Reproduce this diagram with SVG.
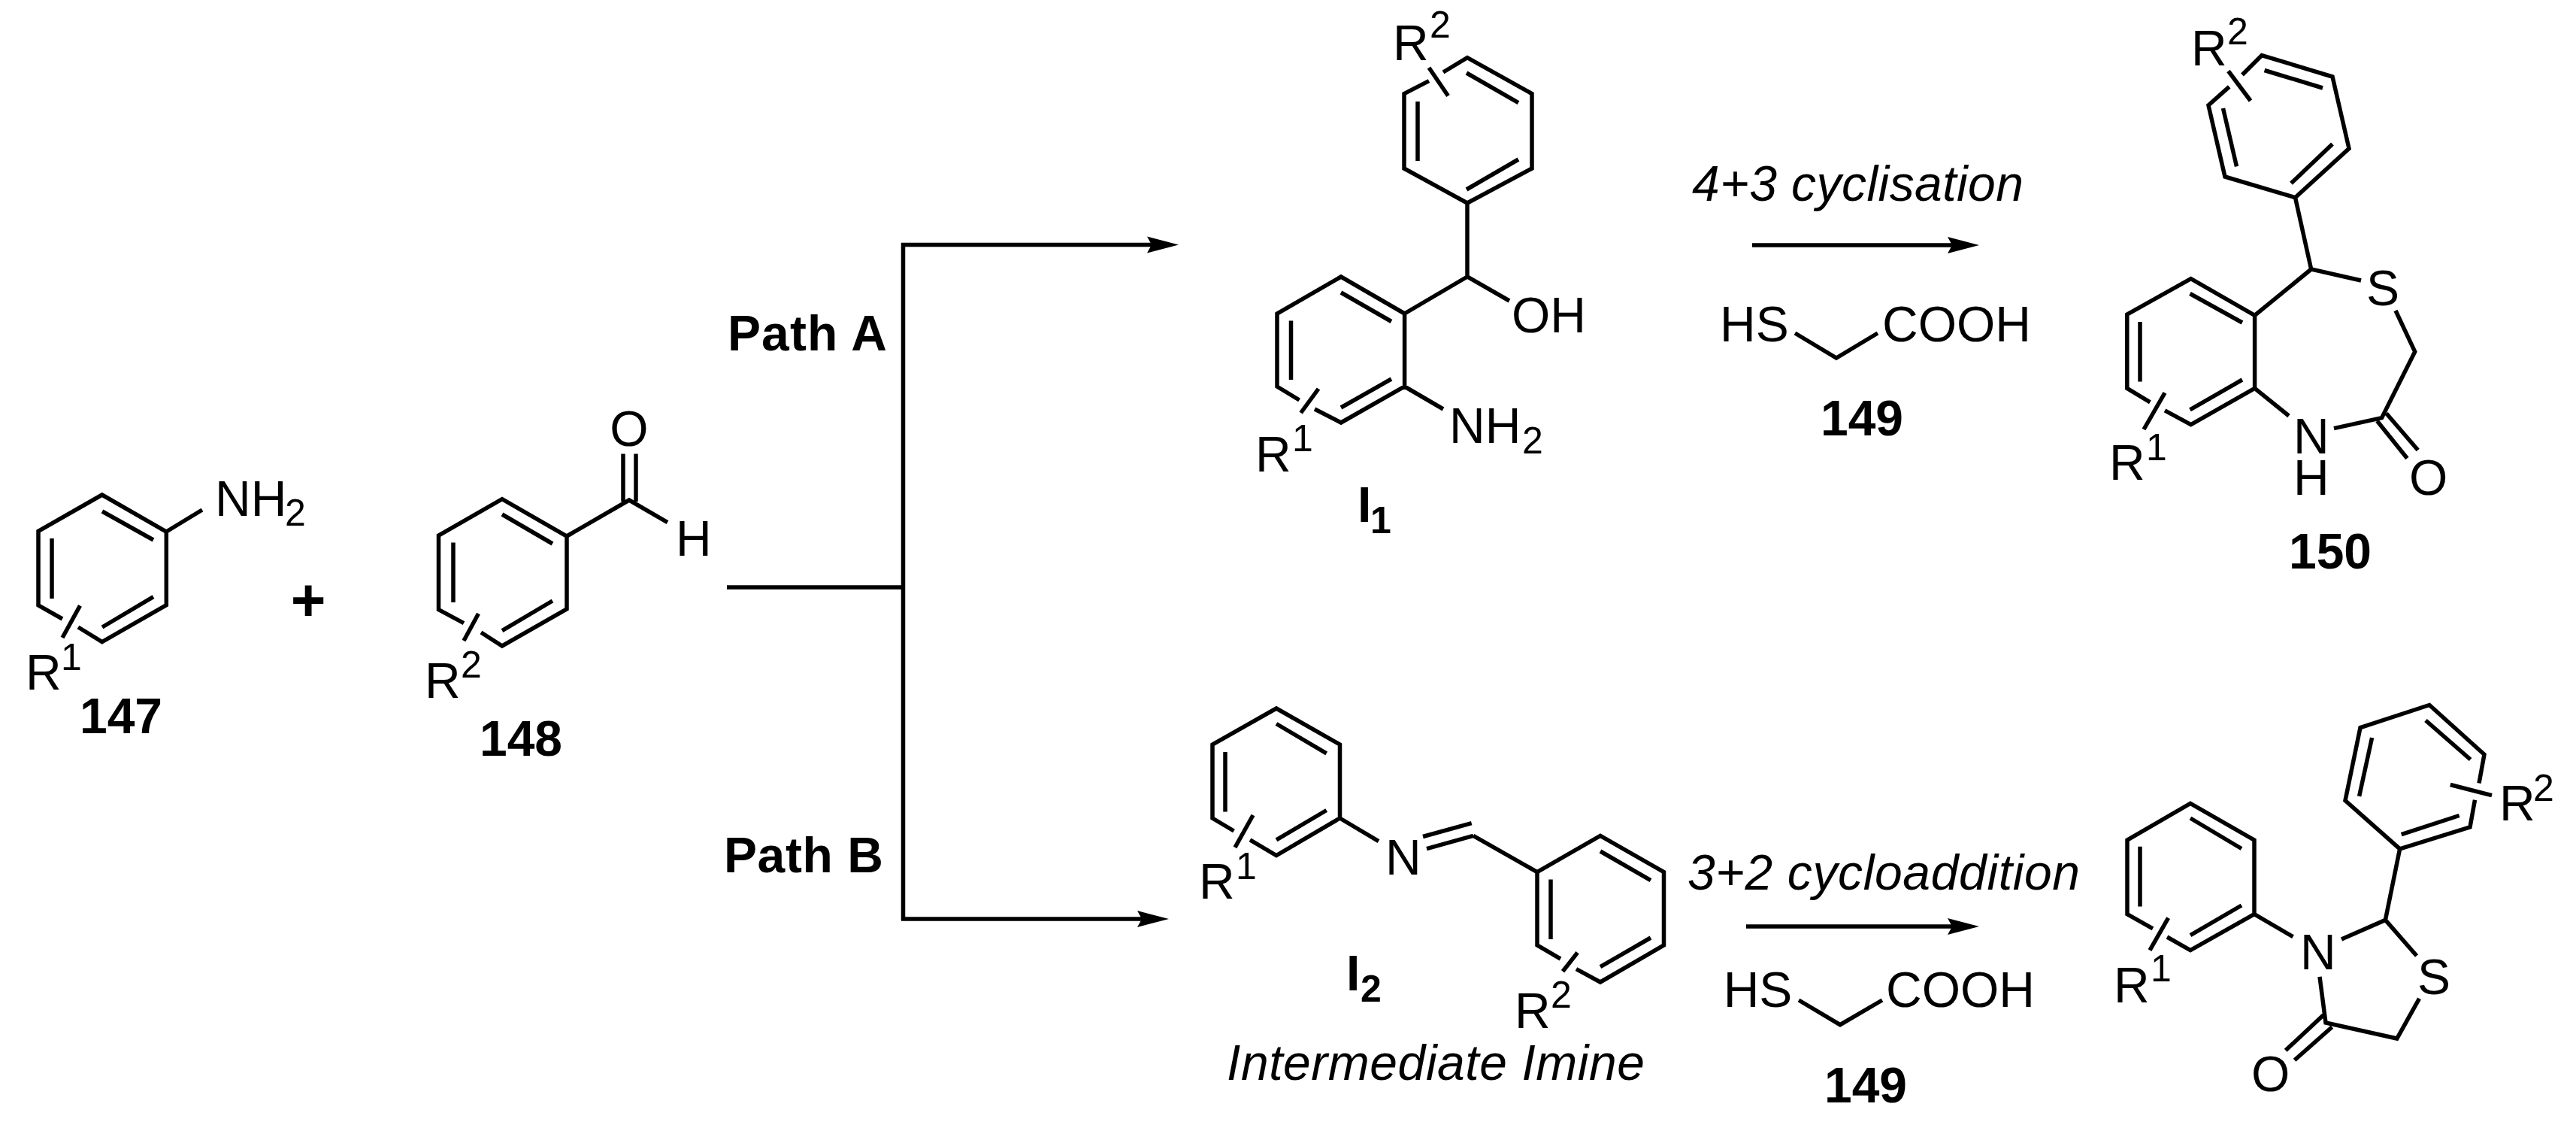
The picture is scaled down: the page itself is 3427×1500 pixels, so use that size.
<svg xmlns="http://www.w3.org/2000/svg" width="3427" height="1500" viewBox="0 0 3427 1500">
<style>
text{font-family:"Liberation Sans",Arial,sans-serif;font-size:66px;fill:#000}
.b{font-weight:700}
.i{font-style:italic}
.s{font-size:50px}
.bond{fill:none;stroke:#000;stroke-width:5.5;stroke-linejoin:miter;stroke-linecap:butt}
.conn{fill:none;stroke:#000;stroke-width:5.5;stroke-linejoin:miter}
</style>
<defs>
<marker id="head" markerUnits="userSpaceOnUse" markerWidth="44" markerHeight="26" refX="27" refY="12" orient="auto">
<path d="M0,1 L42,12 L0,23 L6,12 Z" fill="#000"/>
</marker>
</defs>
<rect width="3427" height="1500" fill="#fff"/>
<g id="connectors">
<path class="conn" d="M967,781H1201.5"/>
<path class="conn" d="M1201.5,781V323"/>
<path class="conn" d="M1201.5,781V1224"/>
<path class="conn" marker-end="url(#head)" d="M1199,325.6H1553"/>
<path class="conn" marker-end="url(#head)" d="M1199,1222H1540"/>
<path class="conn" marker-end="url(#head)" d="M2331,326H2618"/>
<path class="conn" marker-end="url(#head)" d="M2323,1232H2618"/>
</g>
<g id="n147">
<path class="bond" d="M83,823L51,805V706.4L135.8,658L221.3,707V804.6L135.8,853.6L104,834M136,680L204,718M69,716V796M136,834L204,793.6M106.5,805.4L83,848M221.3,707L269,678"/>
<text x="286" y="686">NH<tspan class="s" x="379" y="699">2</tspan></text>
<text x="34" y="917">R<tspan class="s" x="81" y="891">1</tspan></text>
<text class="b" x="161" y="975" text-anchor="middle">147</text>
</g>
<g id="plus"><text class="b" x="410" y="825" text-anchor="middle" style="font-size:80px">+</text></g>
<g id="n148">
<path class="bond" d="M617,828.6L583.5,810.7V712L668,663.6L754,713V810L668,859L640,841M668,684L735,723M603,721.4V801M668,838.6L735,799M636.5,816L617,852M754,713L837,665L888,694.6M829,667V603.6M846,667V603.6"/>
<text x="837" y="592.5" text-anchor="middle">O</text>
<text x="899" y="739">H</text>
<text x="565" y="927.5">R<tspan class="s" x="613" y="901">2</tspan></text>
<text class="b" x="693" y="1004.6" text-anchor="middle">148</text>
</g>
<g id="pathA"><text class="b" x="968" y="466" textLength="212">Path A</text></g>
<g id="pathB"><text class="b" x="963" y="1160" textLength="212">Path B</text></g>
<g id="I1">
<path class="bond" d="M1901,107.6L1868,124.6V224L1952,270L2038,224V124.6L1952,76.6L1920,96M1951,97L2020,136.7M1951,252L2020,212M1886,135V214M1901,90L1926.5,127.5M1952,270V368L2008,400M1952,368L1868.6,417V514L1784,562L1749,544M1728.6,532L1699,514V417L1784,368L1868.6,417M1784,389L1851,427.5M1717.5,426.5V505M1784,542L1851,504M1754,517L1730.6,549M1868.6,514L1920,544"/>
<text x="1853" y="80">R<tspan class="s" x="1902" y="50">2</tspan></text>
<text x="2011" y="442">OH</text>
<text x="1928" y="589">NH<tspan class="s" x="2025" y="602.5">2</tspan></text>
<text x="1670" y="627">R<tspan class="s" x="1719" y="600">1</tspan></text>
<text class="b" x="1806" y="694">I<tspan class="s" x="1823" y="708.6">1</tspan></text>
</g>
<g id="n150">
<path class="bond" d="M2965.7,115.4L2938,140L2960,235L3053.5,262.7L3125,197.5L3103,102L3009,73.6L2983,99.5M3012.6,93.5L3090,117M3103,191.5L3048,243.8M2975.5,221.4L2957.5,144M2964.5,94.5L2994,134M3053.5,262.7L3074.7,358L3141,373M3074.7,358L2999.6,419.4V516.4L2914.7,564.7L2880,545.8M2860.4,534.8L2829.8,516.4V418L2914.7,370.6L2999.6,419.4M2913.5,390.5L2983,429M2847,428V507.5M2913.5,544.8L2983,505M2880,522.4L2852,571M2999.6,516.4L3045,553M3105,569.6L3168.6,555.7L3212.7,467.7L3187,413M3174.7,549.8L3216.7,598.5M3162.4,559.7L3202.4,609.5"/>
<text x="2915" y="87">R<tspan class="s" x="2963" y="58.7">2</tspan></text>
<text x="3148" y="405.5">S</text>
<text x="3051" y="603">N<tspan x="3051" y="658">H</tspan></text>
<text x="3205" y="657.7">O</text>
<text x="2806" y="638">R<tspan class="s" x="2855" y="612">1</tspan></text>
<text class="b" x="3100" y="756" text-anchor="middle">150</text>
</g>
<g id="r149a">
<text class="i" x="2251" y="266.7" textLength="441">4+3 cyclisation</text>
<text x="2288" y="454">HS</text>
<path class="bond" d="M2388,443L2443,476L2498,443"/>
<text x="2504" y="454">COOH</text>
<text class="b" x="2477" y="579" text-anchor="middle">149</text>
</g>
<g id="I2">
<path class="bond" d="M1641.5,1105L1613,1088V990L1698,942L1782.5,990V1088L1698,1137.5L1663,1116.8M1698,962.5L1764.7,1001.8M1630,1000V1079.6M1698,1116.8L1764.7,1077.5M1667,1084L1643,1126.8M1782.5,1088L1834,1118.6M1898,1128.6L1960,1111.4M1893,1112.5L1957.7,1094.6M1960,1111.4L2045,1159.6L2129,1111.4L2213.5,1159.6V1257L2129,1306L2097,1288.6M2076,1275L2045,1257V1159.6M2129,1132L2196,1170.7M2063,1169.6V1249M2129,1285.7L2196,1247M2098.6,1266.8L2079,1291.8"/>
<text x="1595" y="1195">R<tspan class="s" x="1644" y="1168.6">1</tspan></text>
<text x="1843" y="1163">N</text>
<text x="2015" y="1366.8">R<tspan class="s" x="2063" y="1340">2</tspan></text>
<text class="b" x="1791" y="1316.8">I<tspan class="s" x="1810" y="1332">2</tspan></text>
<text class="i" x="1632" y="1435.7" textLength="556">Intermediate Imine</text>
</g>
<g id="r149b">
<text class="i" x="2245" y="1183" textLength="522">3+2 cycloaddition</text>
<text x="2292.7" y="1339">HS</text>
<path class="bond" d="M2393,1330L2448,1362.7L2504,1330"/>
<text x="2509" y="1339">COOH</text>
<text class="b" x="2482" y="1465.7" text-anchor="middle">149</text>
</g>
<g id="product">
<path class="bond" d="M2864,1234.9L2830,1215.7V1117L2914,1068.4L2999,1117V1215.7L2914,1263.6L2883,1246M2914,1088L2982,1128.5M2847,1125.8V1205.4M2914,1243.7L2982,1204M2884.6,1220.7L2860,1263.6M2999,1215.7L3050.5,1245.6M3115,1249L3173.4,1223.4L3215,1271M3173.4,1223.4L3192.6,1128.9L3286,1099.8L3292.5,1063.8M3298,1041.6L3305,1003.3L3232,937.5L3140,967.7L3120,1064.6L3192.6,1128.9M3194.7,1109.7L3271.7,1084.5M3286.6,1010L3227,958M3155.6,981L3138.6,1058.8M3259.8,1043.5L3315,1057.7M3086,1298.8L3094,1360L3188.8,1381L3218.5,1327.9M3091,1349.7L3040.7,1396.8M3102.4,1365.7L3052.6,1409.8"/>
<text x="2812" y="1332.5">R<tspan class="s" x="2861" y="1305">1</tspan></text>
<text x="3060" y="1289">N</text>
<text x="3216" y="1322">S</text>
<text x="3325" y="1091">R<tspan class="s" x="3370" y="1064.6">2</tspan></text>
<text x="2995" y="1451">O</text>
</g>
</svg>
